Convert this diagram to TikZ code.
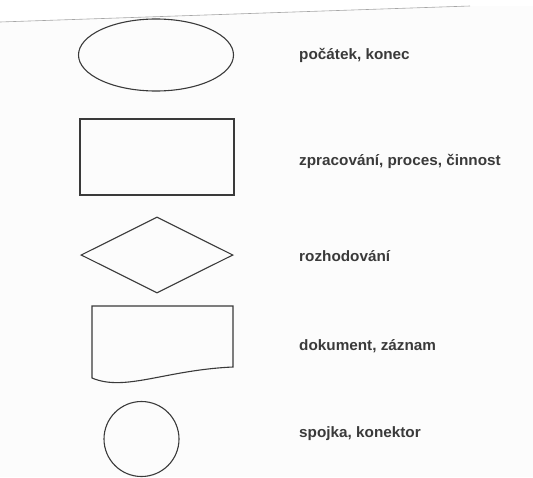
\documentclass[tikz,border=0pt]{standalone}
\usepackage{fontspec}
\setmainfont{Liberation Sans}
\usetikzlibrary{shapes.geometric}
\definecolor{ink}{HTML}{3A3A3A}
\definecolor{paper}{HTML}{FCFCFC}
\begin{document}
\begin{tikzpicture}[x=1pt,y=-1pt,
  shp/.style={draw=ink,line width=1.1pt},
  lbl/.style={anchor=west,inner sep=0pt,text=ink,font=\fontsize{15}{17}\selectfont\bfseries,xscale=1.02}]
\useasboundingbox (0,0) rectangle (533,477);
\fill[white] (0,0) rectangle (533,477);
\fill[paper] (0,22) -- (470,6) -- (533,6) -- (533,477) -- (0,477) -- cycle;
\draw[gray!70,line width=0.6pt] (0,22) -- (470,6);
% shapes
\node[shp,ellipse,minimum width=155pt,minimum height=72pt,inner sep=0pt] (start) at (156,55) {};
\node[shp,rectangle,minimum width=154pt,minimum height=76pt,inner sep=0pt] (proc) at (157,157) {};
\node[shp,diamond,minimum width=152pt,minimum height=76pt,inner sep=0pt,aspect=2] (dec) at (157,255) {};
\draw[shp] (92,306) -- (233,306) -- (233,367) .. controls (165,370) and (125,392) .. (92,378) -- cycle;
\node[shp,circle,minimum size=75pt,inner sep=0pt] (con) at (141.5,439) {};
% labels
\node[lbl] (t1) at (299,55) {počátek, konec};
\node[lbl] (t2) at (299,161) {zpracování, proces, činnost};
\node[lbl] (t3) at (299,256) {rozhodování};
\node[lbl] (t4) at (299,346) {dokument, záznam};
\node[lbl] (t5) at (299,434) {spojka, konektor};
\end{tikzpicture}
\end{document}
